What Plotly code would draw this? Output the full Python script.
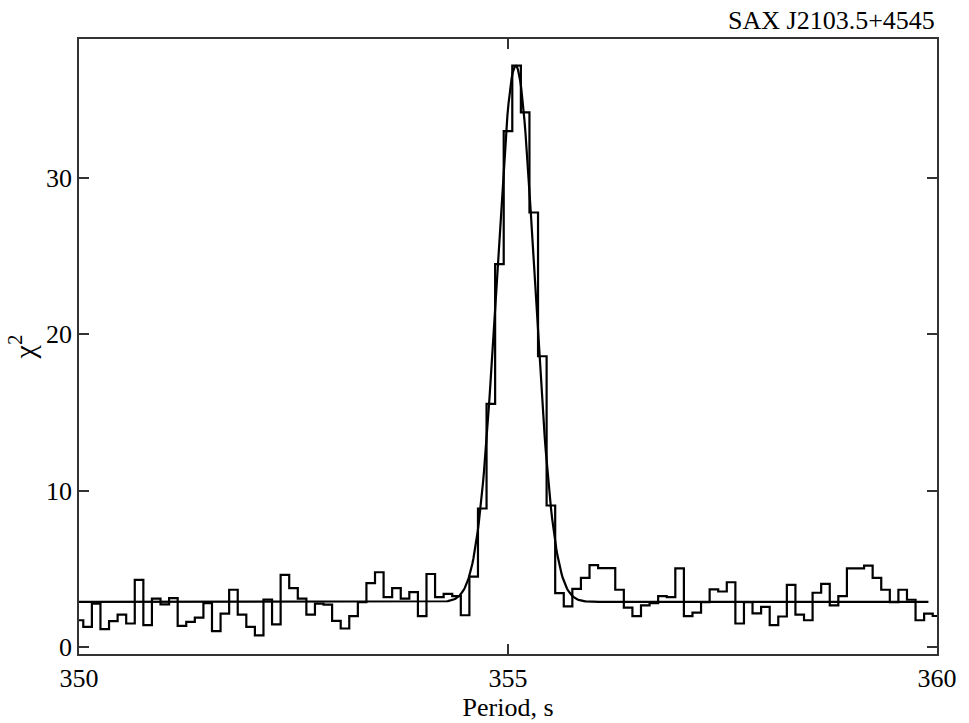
import numpy as np
import plotly.graph_objects as go

# Period grid (bin centres, 0.1 s step) and chi^2 values
period = [round(350.0 + 0.1 * i, 1) for i in range(101)]
chi2 = [
    1.71, 1.29, 2.77, 1.14, 1.65, 2.07, 1.50, 4.29, 1.40, 3.09,
    2.73, 3.13, 1.35, 1.61, 1.88, 2.81, 1.01, 2.13, 3.66, 2.07,
    1.29, 0.74, 3.03, 1.44, 4.61, 3.76, 3.09, 2.07, 2.77, 2.71,
    1.67, 1.18, 1.97, 2.87, 4.08, 4.78, 3.19, 3.76, 3.09, 3.51,
    1.97, 4.67, 3.19, 3.40, 3.25, 2.03, 4.50, 8.86, 15.56, 24.5,
    33.0, 37.2, 34.2, 27.8, 18.6, 9.05, 3.44, 2.60, 3.72, 4.42,
    5.24, 5.05, 5.05, 3.66, 2.52, 1.97, 2.66, 2.81, 3.25, 3.19,
    5.03, 1.97, 2.20, 2.87, 3.68, 3.55, 4.14, 1.50, 2.87, 2.15,
    2.56, 1.40, 1.95, 3.97, 2.07, 1.71, 3.47, 4.04, 2.66, 3.25,
    5.03, 5.03, 5.20, 4.42, 3.66, 2.87, 3.66, 3.02, 1.71, 2.13,
    1.98,
]

# Gaussian fit parameters
fit_base = 2.88
fit_amp = 34.3
fit_center = 355.09
fit_sigma = 0.22
fit_x = np.linspace(350.0, 359.9, 800)
fit_y = fit_base + fit_amp * np.exp(-((fit_x - fit_center) ** 2) / (2 * fit_sigma ** 2))

x_ticks = [350, 355, 360]
y_ticks = [0, 10, 20, 30]

FONT = "Liberation Serif"
FSIZE = 26

fig = go.Figure()
fig.add_trace(go.Scatter(x=period, y=chi2, mode="lines",
                         line=dict(color="black", width=2.2, shape="hvh"),
                         showlegend=False, hoverinfo="skip"))
fig.add_trace(go.Scatter(x=fit_x, y=fit_y, mode="lines",
                         line=dict(color="black", width=2.2),
                         showlegend=False, hoverinfo="skip"))

axis_common = dict(showline=True, linecolor="#333333", linewidth=1.5, mirror="ticks",
                   ticks="inside", ticklen=10, tickwidth=1.5, tickcolor="#333333",
                   showgrid=False, zeroline=False,
                   tickfont=dict(family=FONT, size=FSIZE, color="black"))

fig.update_xaxes(range=[350, 360], tickvals=x_ticks, ticktext=[str(v) for v in x_ticks],
                 title=dict(text="Period, s", font=dict(family=FONT, size=FSIZE, color="black"),
                            standoff=0),
                 **axis_common)
fig.update_yaxes(range=[-0.45, 38.9], tickvals=y_ticks, ticktext=[str(v) for v in y_ticks],
                 title=dict(text="χ<sup>2</sup>", font=dict(family=FONT, size=30, color="black"),
                            standoff=2),
                 **axis_common)

fig.update_layout(
    width=969, height=723,
    margin=dict(l=79, r=25, t=39, b=64),
    paper_bgcolor="white", plot_bgcolor="white",
    font=dict(family=FONT, size=FSIZE, color="black"),
    annotations=[dict(text="SAX J2103.5+4545", xref="paper", yref="paper",
                      x=1.0, y=1.0, xanchor="right", yanchor="bottom", yshift=2,
                      showarrow=False, font=dict(family=FONT, size=FSIZE, color="black"))],
)

fig.write_html("out.html")
